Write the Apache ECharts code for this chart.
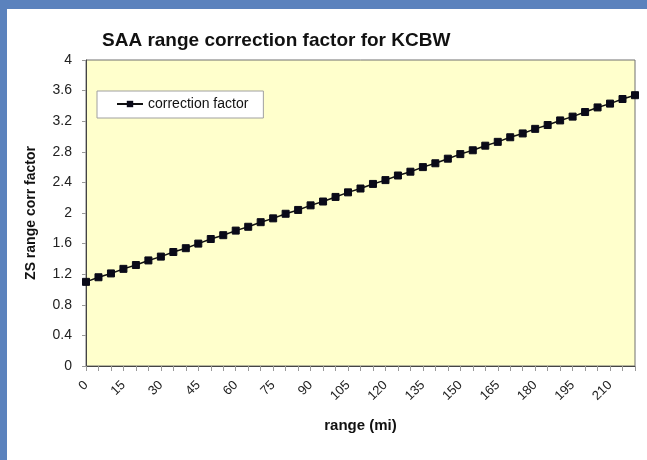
<!DOCTYPE html>
<html>
<head>
<meta charset="utf-8">
<script src="https://cdn.jsdelivr.net/npm/echarts@6/dist/echarts.min.js"></script>
<style>
html,body{margin:0;padding:0;background:#fff;}
#c{width:647px;height:460px;}
</style>
</head>
<body>
<div id="c"></div>
<script>
const chartTitle = 'SAA range correction factor for KCBW';
const seriesName = 'correction factor';
const xAxisName = 'range (mi)';
const yAxisName = 'ZS range corr factor';
const ranges = ['0','5','10','15','20','25','30','35','40','45','50','55','60','65','70','75','80','85','90','95','100','105','110','115','120','125','130','135','140','145','150','155','160','165','170','175','180','185','190','195','200','205','210','215','220'];
const factors = [1.10,1.16,1.21,1.27,1.32,1.38,1.43,1.49,1.54,1.60,1.66,1.71,1.77,1.82,1.88,1.93,1.99,2.04,2.10,2.15,2.21,2.27,2.32,2.38,2.43,2.49,2.54,2.60,2.65,2.71,2.77,2.82,2.88,2.93,2.99,3.04,3.10,3.15,3.21,3.26,3.32,3.38,3.43,3.49,3.54];

const chart = echarts.init(document.getElementById('c'));
const font = 'Arial, "Liberation Sans", sans-serif';
chart.setOption({
  animation: false,
  backgroundColor: '#fff',
  textStyle: {fontFamily: font},
  graphic: [
    {type:'rect', shape:{x:0,y:0,width:647,height:9}, style:{fill:'#5b82bd'}, z:100},
    {type:'rect', shape:{x:0,y:0,width:7,height:460}, style:{fill:'#5b82bd'}, z:100}
  ],
  title: {
    text: chartTitle,
    left: 97, top: 26,
    textStyle: {fontFamily: font, fontSize: 19, fontWeight: 'bold', color: '#111'}
  },
  legend: {
    data: [seriesName],
    left: 97, top: 91,
    orient: 'horizontal',
    backgroundColor: '#fff',
    borderColor: '#a0a0a0',
    borderWidth: 1,
    borderRadius: 0,
    padding: [6, 15, 7, 19],
    itemWidth: 26, itemHeight: 8,
    itemGap: 4,
    textStyle: {fontFamily: font, fontSize: 14, color: '#111'}
  },
  grid: {
    left: 86, top: 60, right: 12, bottom: 94,
    show: true,
    backgroundColor: '#ffffcc',
    borderColor: '#707070',
    borderWidth: 1
  },
  xAxis: {
    type: 'category',
    data: ranges,
    boundaryGap: false,
    name: xAxisName,
    nameLocation: 'middle',
    nameGap: 52,
    nameTextStyle: {fontFamily: font, fontSize: 15, fontWeight: 'bold', color: '#111'},
    axisLine: {lineStyle: {color: '#444', width: 1}},
    axisTick: {show: true, interval: 0, length: 5, lineStyle: {color: '#999'}},
    axisLabel: {interval: 2, rotate: 45, fontSize: 13, color: '#222', fontFamily: font, margin: 17},
    splitLine: {show: false}
  },
  yAxis: {
    type: 'value',
    min: 0, max: 4, interval: 0.4,
    name: yAxisName,
    nameLocation: 'middle',
    nameGap: 48,
    nameTextStyle: {fontFamily: font, fontSize: 14, fontWeight: 'bold', color: '#111'},
    axisLine: {show: true, lineStyle: {color: '#444', width: 1}},
    axisTick: {show: true, length: 4, lineStyle: {color: '#999'}},
    axisLabel: {fontSize: 14, color: '#222', fontFamily: font, margin: 14},
    splitLine: {show: false}
  },
  series: [{
    name: seriesName,
    type: 'line',
    data: factors,
    symbol: 'rect',
    symbolSize: 7,
    lineStyle: {color: '#111', width: 1.5},
    itemStyle: {color: '#0a0a18', borderColor: '#0a0a18'},
    z: 5
  }]
});
</script>
</body>
</html>
